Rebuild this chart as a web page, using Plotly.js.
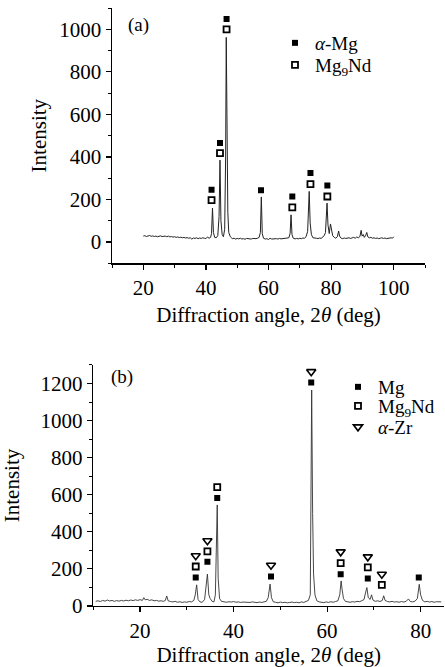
<!DOCTYPE html>
<html>
<head>
<meta charset="utf-8">
<script src="https://cdn.plot.ly/plotly-3.0.1.min.js"></script>
<style>html,body{margin:0;padding:0;background:#fff}#chart{width:445px;height:667px}</style>
</head>
<body>
<div id="chart"></div>
<script>
// ---------- Panel (a) spectrum ----------
var xA = [20,20.5,21,21.5,22,22.5,23,23.5,24,24.5,25,25.5,26,26.5,27,27.5,28,28.5,29,29.5,30,30.5,31,31.5,32,32.5,33,33.5,34,34.5,35,35.5,36,36.5,37,37.5,38,38.5,39,39.5,40,40.5,41,41.5,41.8,42.1,42.4,42.8,43.3,43.8,44.2,44.5,44.8,45.2,45.6,46.0,46.3,46.5,46.7,47.0,47.3,47.8,48.3,48.5,49,49.5,50,50.5,51,51.5,52,52.5,53,53.5,54,54.5,55,55.5,56,56.5,57,57.4,57.7,58.0,58.4,59,59.5,60,60.5,61,61.5,62,62.5,63,63.5,64,64.5,65,65.5,66,66.5,66.9,67.2,67.5,67.9,68.5,69,69.5,70,70.5,71,71.5,72,72.5,72.8,73.0,73.3,73.7,74.2,74.8,75.3,75.8,76.3,76.8,77.3,77.8,78.2,78.5,78.7,79.0,79.4,79.8,80.1,80.5,81,81.5,82,82.4,82.7,83.2,83.7,84.2,84.7,85.2,85.7,86.2,86.7,87.2,87.7,88.2,88.7,89.2,89.6,89.9,90.3,90.6,91,91.4,91.7,92.2,92.7,93.2,93.7,94.2,94.7,95.2,95.7,96.2,96.7,97.2,97.7,98.2,98.7,99.2,99.6,100];
var yA = [28,30,26,29,31,27,29,26,28,25,27,29,26,27,28,25,28,24,26,23,25,22,24,21,23,20,22,19,21,18,20,14,19,17,20,16,19,17,20,18,16,24,18,22,40,160,45,22,20,30,120,385,100,35,25,60,400,962,430,140,45,25,18,16,18,14,17,15,18,14,16,13,17,15,16,14,17,15,16,18,22,45,212,40,18,14,16,12,18,14,15,13,16,14,17,15,16,14,17,16,20,40,128,35,18,15,17,15,18,16,19,18,25,50,130,238,90,35,20,17,18,16,19,17,24,30,45,110,183,80,40,85,60,30,22,18,25,52,28,18,16,19,17,18,20,17,19,22,18,24,20,26,55,28,35,22,30,45,25,20,22,18,20,17,19,16,18,20,17,19,16,18,17,20,18,25];

// ---------- Panel (a) phase markers ----------
var aMgX = [41.8,44.5,46.6,57.6,67.6,73.4,78.8];
var aMgY = [246,465,1048,244,214,324,266];
var aNdX = [41.8,44.5,46.6,67.6,73.4,78.8];
var aNdY = [197,418,1000,163,272,214];

// ---------- Panel (b) spectrum ----------
var xB = [10.5,11,11.5,12,12.5,13,13.5,14,14.5,15,15.5,16,16.5,17,17.5,18,18.5,19,19.5,20,20.5,20.8,21.1,21.5,22,22.5,23,23.5,24,24.5,25,25.4,25.7,26,26.5,27,27.5,28,28.5,29,29.5,30,30.5,31,31.5,31.8,32.1,32.4,32.8,33.3,33.8,34.1,34.4,34.7,35.0,35.4,35.8,36.1,36.3,36.5,36.7,37.0,37.4,38,38.5,39,39.5,40,40.5,41,41.5,42,42.5,43,43.5,44,44.5,45,45.5,46,46.5,47,47.4,47.8,48.1,48.5,49,49.5,50,50.5,51,51.5,52,52.5,53,53.5,54,54.5,55,55.5,56,56.4,56.7,56.9,57.1,57.4,57.8,58.3,58.8,59.3,59.8,60.3,60.8,61.3,61.8,62.3,62.7,63.0,63.2,63.5,63.9,64.4,64.9,65.4,65.9,66.4,66.9,67.4,67.9,68.2,68.5,68.8,69.2,69.5,69.8,70.3,70.8,71.3,71.8,72.1,72.4,72.9,73.4,73.9,74.4,74.9,75.4,75.9,76.4,76.9,77.4,77.8,78.3,78.8,79.3,79.7,80.0,80.4,80.9,81.4,81.9,82.4,82.9,83.4,83.9,84.4];
var yB = [25,28,24,30,26,32,27,30,25,29,26,30,27,31,28,32,29,33,30,34,30,45,33,36,30,33,28,30,26,28,25,30,54,28,24,22,25,20,23,19,22,20,24,22,30,60,114,35,22,20,35,90,172,60,40,25,22,60,300,545,150,40,25,22,20,23,21,24,20,22,19,21,20,23,19,22,20,18,21,19,22,25,45,118,45,22,20,17,21,18,20,17,19,21,18,20,17,22,19,24,30,60,1165,500,173,60,28,22,20,18,22,19,23,20,24,28,60,135,90,40,25,22,20,23,21,25,23,28,35,70,99,45,35,60,32,25,28,24,30,55,30,24,22,25,21,23,20,24,21,25,38,24,22,26,40,117,60,30,22,25,21,24,20,23,21,22];

// ---------- Panel (b) phase markers ----------
var bMgX = [31.9,34.4,36.5,48.0,56.6,62.9,68.7,79.6];
var bMgY = [153,238,583,159,1206,171,148,153];
var bNdX = [31.9,34.4,36.5,62.9,68.7,71.7];
var bNdY = [213,294,641,231,208,114];
var bZrX = [31.9,34.4,48.0,56.6,62.9,68.7,71.7];
var bZrY = [271,352,220,1264,292,265,171];

var FONT = "Liberation Serif";
var lineStyle = {color:'#222', width:1};
var fill = {symbol:'square', size:6, color:'#000'};
var open = {symbol:'square-open', size:6, color:'#000', line:{width:1.8, color:'#000'}};
var tri = {symbol:'triangle-down-open', size:8, color:'#000', line:{width:1.6, color:'#000'}};

var traces = [
  {x:xA, y:yA, type:'scatter', mode:'lines', line:lineStyle, xaxis:'x', yaxis:'y', showlegend:false, hoverinfo:'skip'},
  {x:aMgX, y:aMgY, type:'scatter', mode:'markers', marker:fill, name:'<i>α</i>-Mg', xaxis:'x', yaxis:'y', legend:'legend'},
  {x:aNdX, y:aNdY, type:'scatter', mode:'markers', marker:open, name:'Mg<sub>9</sub>Nd', xaxis:'x', yaxis:'y', legend:'legend2'},
  {x:xB, y:yB, type:'scatter', mode:'lines', line:{color:'#333', width:0.9}, xaxis:'x2', yaxis:'y2', showlegend:false, hoverinfo:'skip'},
  {x:bMgX, y:bMgY, type:'scatter', mode:'markers', marker:fill, name:'Mg', xaxis:'x2', yaxis:'y2', legend:'legend3'},
  {x:bNdX, y:bNdY, type:'scatter', mode:'markers', marker:open, name:'Mg<sub>9</sub>Nd', xaxis:'x2', yaxis:'y2', legend:'legend4'},
  {x:bZrX, y:bZrY, type:'scatter', mode:'markers', marker:tri, name:'<i>α</i>-Zr', xaxis:'x2', yaxis:'y2', legend:'legend5'}
];

function ax(extra){
  var base = {showline:true, linecolor:'#000', linewidth:1.5, ticks:'outside', ticklen:5, tickwidth:1.2, tickcolor:'#000',
    showgrid:false, zeroline:false, mirror:false,
    tickfont:{family:'Liberation Serif', size:21, color:'#000'}};
  for (var k in extra) base[k] = extra[k];
  return base;
}
var minorX = {ticks:'outside', ticklen:3, tickwidth:1, tickcolor:'#000', dtick:10};
var minorY = {ticks:'outside', ticklen:3, tickwidth:1, tickcolor:'#000', dtick:100};

function leg(xpx, ypx){
  return {x:xpx/445, y:1-ypx/667, xanchor:'left', yanchor:'middle', bgcolor:'rgba(0,0,0,0)', borderwidth:0,
    font:{family:FONT, size:19, color:'#000'}, tracegroupgap:0};
}

var layout = {
  width:445, height:667, margin:{l:0,r:0,t:0,b:0}, paper_bgcolor:'#fff', plot_bgcolor:'#fff',
  font:{family:FONT, color:'#000', size:19},
  xaxis: ax({domain:[0.2517,0.9551], range:[10,110], tick0:0, dtick:20, anchor:'y', minor:minorX,
    title:{text:'Diffraction angle, 2<i>θ</i> (deg)', font:{family:FONT, size:21, color:'#000'}, standoff:8}}),
  yaxis: ax({domain:[0.6052,0.988], range:[-100,1100], tick0:0, dtick:200, anchor:'x', minor:minorY,
    title:{text:'Intensity', font:{family:FONT, size:21, color:'#000'}, standoff:7}}),
  xaxis2: ax({domain:[0.2097,0.9978], range:[10,85], tick0:0, dtick:20, anchor:'y2', minor:minorX,
    title:{text:'Diffraction angle, 2<i>θ</i> (deg)', font:{family:FONT, size:21, color:'#000'}, standoff:5}}),
  yaxis2: ax({domain:[0.0915,0.4528], range:[0,1300], tick0:0, dtick:200, anchor:'x2', minor:minorY,
    title:{text:'Intensity', font:{family:FONT, size:21, color:'#000'}, standoff:19}}),
  legend: leg(275, 43),
  legend2: leg(275, 65),
  legend3: leg(338, 387),
  legend4: leg(338, 406),
  legend5: leg(338, 427),
  annotations:[
    {text:'(a)', xref:'paper', yref:'paper', x:138/445, y:1-25/667, showarrow:false, xanchor:'center', yanchor:'middle', font:{family:FONT, size:19, color:'#000'}},
    {text:'(b)', xref:'paper', yref:'paper', x:122/445, y:1-377/667, showarrow:false, xanchor:'center', yanchor:'middle', font:{family:FONT, size:19, color:'#000'}}
  ]
};

Plotly.newPlot('chart', traces, layout, {staticPlot:true, displayModeBar:false});
</script>
</body>
</html>
